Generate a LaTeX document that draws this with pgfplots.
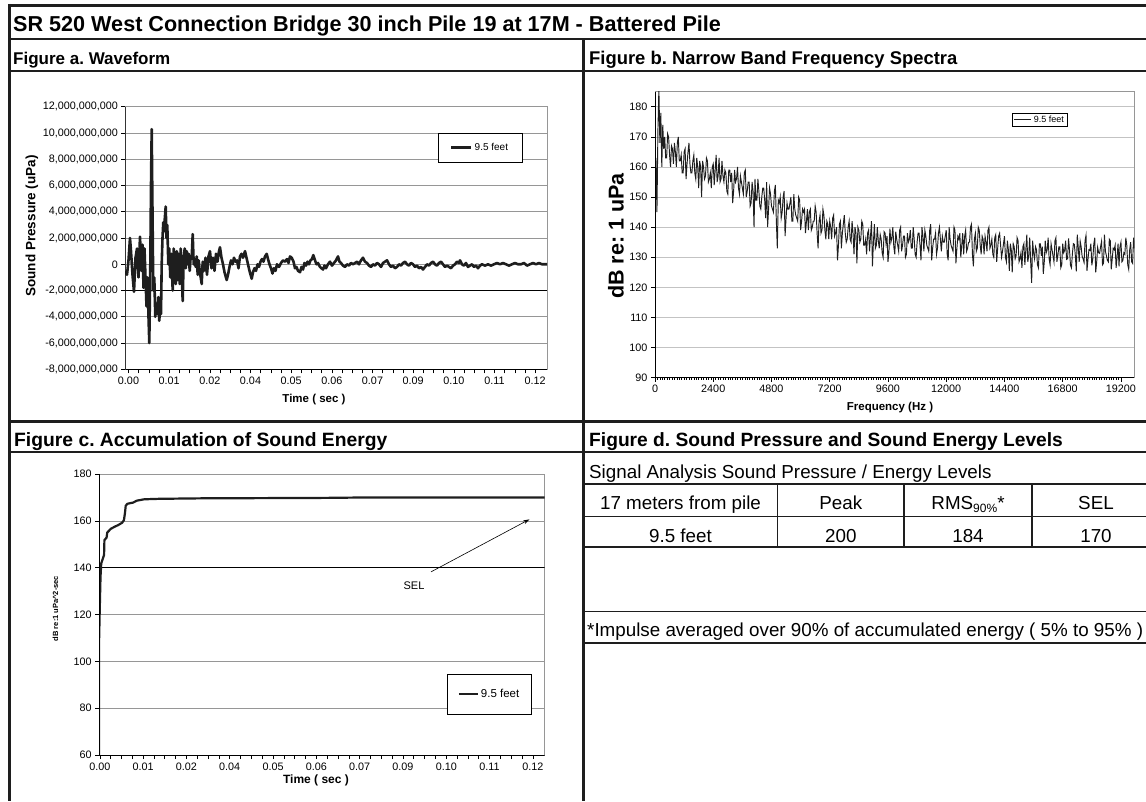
\documentclass[border=0pt]{standalone}
\usepackage{fontspec}
\setmainfont{Liberation Sans}
\usepackage{pgfplots}
\pgfplotsset{compat=1.18}
\usetikzlibrary{arrows.meta}
\definecolor{gridA}{RGB}{150,150,150}
\definecolor{gridB}{RGB}{195,195,195}
\definecolor{ink}{RGB}{30,30,30}
\newcommand{\fs}[1]{\fontsize{#1}{#1}\selectfont}
\pgfplotsset{
  myaxis/.style={
    scale only axis, anchor=south west,
    axis line style={gridA, line width=0.6pt},
    tick style={black, line width=0.6pt},
    tick align=outside, major tick length=4pt, minor tick length=4pt,
    xtick pos=left, ytick pos=left,
    scaled x ticks=false, scaled y ticks=false,
    ymajorgrids, grid style={gridA, line width=0.6pt},
    tick label style={font=\fs{10.8}},
    /pgf/number format/assume math mode=true,
    legend cell align=left,
  }
}
\begin{document}
\frenchspacing
\begin{tikzpicture}[x=1pt,y=1pt]
\useasboundingbox (0,0) rectangle (1146,801);

% ---------------- Figure a
\begin{axis}[myaxis, at={(125.5pt,431.7pt)}, width=421.5pt, height=262.5pt,
  xmin=-0.0009, xmax=0.12555, ymin=-8e9, ymax=12e9,
  xtick={0,0.0122,0.0244,0.0366,0.0488,0.061,0.0732,0.0854,0.0976,0.1098,0.122},
  xticklabels={0.00,0.01,0.02,0.04,0.05,0.06,0.07,0.09,0.10,0.11,0.12},
  minor x tick num=3,
  ytick={-8e9,-6e9,-4e9,-2e9,0,2e9,4e9,6e9,8e9,10e9,12e9},
  yticklabels={{-8,000,000,000},{-6,000,000,000},{-4,000,000,000},{-2,000,000,000},{0},{2,000,000,000},{4,000,000,000},{6,000,000,000},{8,000,000,000},{10,000,000,000},{12,000,000,000}},
  legend style={at={(0.741,0.900)}, anchor=north west, draw=black, line width=0.6pt,
    inner xsep=12pt, inner ysep=8pt, font=\fs{10}},
  legend image code/.code={\draw[#1] (0pt,0pt) -- (20pt,0pt);},
]
\draw[black, line width=1.2pt] (axis cs:-0.0009,-2e9) -- (axis cs:0.12555,-2e9);
\addplot[ink, line width=2.6pt, line join=round] coordinates {
(-0.0009,-0.5e9) (-0.00045,-0.8e9) (0,0.3e9) (0.00045,2.0e9) (0.00075,1.0e9) (0.0012,-0.8e9) (0.00165,-2.1e9) (0.0021,0.5e9) (0.00255,1.2e9) (0.003,-1.0e9) (0.00345,2.1e9) (0.0039,-0.5e9) (0.0042,1.5e9) (0.0045,-1.8e9) (0.0048,1.2e9) (0.0051,-1.0e9) (0.0054,-3.2e9) (0.0057,-1.0e9) (0.006,-4.0e9) (0.00624,-6.0e9) (0.00654,0) (0.00675,6.0e9) (0.00696,10.3e9) (0.0072,4.0e9) (0.00744,-2.0e9) (0.00774,-1.0e9) (0.00804,-4.0e9) (0.00834,-3.0e9) (0.00864,-3.8e9) (0.00894,-2.5e9) (0.00924,-4.3e9) (0.00954,-3.0e9) (0.00975,-3.8e9) (0.00996,0) (0.0102,2.0e9) (0.01044,3.2e9) (0.01065,2.5e9) (0.01089,3.5e9) (0.01116,4.4e9) (0.0114,2.0e9) (0.01164,3.0e9) (0.01194,0) (0.01224,1.2e9) (0.01254,-1.0e9) (0.01284,0.8e9) (0.01326,-2.0e9) (0.01356,1.2e9) (0.01386,-0.5e9) (0.01416,-1.5e9) (0.01446,1.0e9) (0.01476,-1.2e9) (0.01506,0.8e9) (0.01536,-1.5e9) (0.01566,1.2e9) (0.01596,-0.8e9) (0.01626,-2.8e9) (0.01656,0.5e9) (0.01686,1.2e9) (0.01716,-0.3e9) (0.01746,1.0e9) (0.01776,0) (0.01806,0.8e9) (0.01836,-0.5e9) (0.01866,0.6e9) (0.01896,0.5e9) (0.01926,2.3e9) (0.01956,0) (0.01986,0.3e9) (0.02016,-0.2e9) (0.02046,0.6e9) (0.02076,-0.8e9) (0.02106,0.3e9) (0.02136,-0.5e9) (0.02166,-1.0e9) (0.02196,-1.5e9) (0.02226,0.2e9) (0.02265,-0.5e9) (0.0231,0.5e9) (0.02355,-0.8e9) (0.024,0.6e9) (0.02445,1.0e9) (0.0249,-0.3e9) (0.02535,0.5e9) (0.0258,-0.5e9) (0.02625,0.8e9) (0.0267,0.2e9) (0.02715,1.0e9) (0.02745,1.3e9) (0.0279,0.5e9) (0.02835,0) (0.0288,-0.6e9) (0.02946,-1.2e9) (0.02985,-0.8e9) (0.0303,-0.2e9) (0.03075,0.3e9) (0.0312,0) (0.03165,0.5e9) (0.0321,0.2e9) (0.03255,0.3e9) (0.033,-0.3e9) (0.03345,0.6e9) (0.0339,0.8e9) (0.03435,0.5e9) (0.03495,1.0e9) (0.0354,0.5e9) (0.03585,0) (0.0363,-0.5e9) (0.03696,-1.1e9) (0.03735,-0.6e9) (0.0378,-0.3e9) (0.03825,-0.5e9) (0.0387,0) (0.03915,-0.2e9) (0.0396,0.2e9) (0.04005,0.4e9) (0.0405,0.2e9) (0.04095,0.6e9) (0.04146,0.8e9) (0.04185,0.4e9) (0.0423,0) (0.04275,-0.3e9) (0.0432,-0.7e9) (0.04365,-0.3e9) (0.0441,-0.5e9) (0.04455,0) (0.04515,-0.2e9) (0.04575,0.1e9) (0.04635,0.3e9) (0.04695,0.2e9) (0.04755,0.4e9) (0.048,0.1e9) (0.04845,0.6e9) (0.04896,0.5e9) (0.0495,0.2e9) (0.04995,-0.3e9) (0.0504,-0.2e9) (0.05085,-0.5e9) (0.05145,-0.6e9) (0.0519,-0.2e9) (0.05235,-0.4e9) (0.0528,0.1e9) (0.05325,-0.1e9) (0.0537,0.2e9) (0.05415,0) (0.0546,0.3e9) (0.05505,0.4e9) (0.05544,0.7e9) (0.05595,0.3e9) (0.0564,0) (0.05685,0.1e9) (0.05745,-0.2e9) (0.0579,-0.3e9) (0.05835,-0.4e9) (0.0588,-0.1e9) (0.05925,-0.3e9) (0.05985,0) (0.06045,0.2e9) (0.06105,-0.1e9) (0.06165,0.1e9) (0.06225,0.3e9) (0.06285,0.6e9) (0.0633,0.2e9) (0.06375,0.1e9) (0.06435,-0.1e9) (0.06495,-0.2e9) (0.06555,0) (0.06615,-0.1e9) (0.06675,0.1e9) (0.06735,0) (0.06795,0.1e9) (0.06855,0.2e9) (0.06915,0) (0.06975,0.3e9) (0.07035,0.5e9) (0.07095,0.2e9) (0.07155,0.1e9) (0.07215,-0.1e9) (0.07275,-0.2e9) (0.07335,0) (0.07395,-0.1e9) (0.07455,0.1e9) (0.07515,0) (0.07575,-0.2e9) (0.07635,0.1e9) (0.07695,0.2e9) (0.07755,0.3e9) (0.07815,0) (0.07875,-0.2e9) (0.07935,-0.1e9) (0.07995,-0.3e9) (0.08055,-0.2e9) (0.08115,0) (0.08175,-0.1e9) (0.08235,0.1e9) (0.08295,0.2e9) (0.08355,0) (0.08415,-0.1e9) (0.08475,0.1e9) (0.08535,0) (0.08595,-0.2e9) (0.08655,-0.1e9) (0.08715,-0.3e9) (0.08775,-0.2e9) (0.08835,-0.4e9) (0.08895,-0.2e9) (0.08955,0) (0.09015,-0.1e9) (0.09075,0.1e9) (0.09135,0.2e9) (0.09195,0) (0.09255,-0.1e9) (0.09315,0.1e9) (0.09375,0.2e9) (0.09435,0) (0.09495,-0.2e9) (0.09555,-0.1e9) (0.09615,-0.2e9) (0.09675,-0.3e9) (0.09735,-0.1e9) (0.09795,0) (0.09855,0.2e9) (0.09915,0.1e9) (0.09945,0.3e9) (0.10005,0) (0.10065,-0.1e9) (0.10125,0.1e9) (0.10185,-0.2e9) (0.10245,-0.1e9) (0.10305,0) (0.10365,-0.2e9) (0.10425,-0.1e9) (0.10485,-0.3e9) (0.10545,-0.1e9) (0.10605,0) (0.10695,-0.1e9) (0.10785,0) (0.10875,-0.1e9) (0.10965,0) (0.11055,0.1e9) (0.11145,0) (0.11235,0.1e9) (0.11325,0) (0.11415,-0.1e9) (0.11505,0) (0.11595,0.1e9) (0.11685,0) (0.11775,0) (0.11865,0.1e9) (0.11955,-0.1e9) (0.12045,0) (0.12135,0.1e9) (0.12225,0) (0.12315,0.1e9) (0.12405,0) (0.12495,0) (0.12555,0)
};
\addlegendentry{9.5 feet}
\draw[black, line width=0.8pt] (rel axis cs:0,0) -- (rel axis cs:0,1);
\draw[black, line width=0.8pt] (rel axis cs:0,0) -- (rel axis cs:1,0);
\end{axis}

% ---------------- Figure b
\begin{axis}[myaxis, at={(655pt,423.3pt)}, width=479.3pt, height=286pt,
  xmin=0, xmax=19750, ymin=90, ymax=185,
  xtick={0,2400,4800,7200,9600,12000,14400,16800,19200},
  xticklabels={0,2400,4800,7200,9600,12000,14400,16800,19200},
  minor x tick num=23, minor tick length=2pt,
  ytick={90,100,110,120,130,140,150,160,170,180},
  grid style={gridB, line width=0.6pt},
  legend style={at={(0.745,0.9255)}, anchor=north west, draw=black, line width=0.5pt,
    inner xsep=1.5pt, inner ysep=0.5pt, font=\fs{9}},
  legend image code/.code={\draw[#1] (0pt,0pt) -- (17pt,0pt);},
]
\addplot[ink, line width=0.95pt] coordinates {
(0,153)(40,163)(80,145)(120,172)(160,186)(200,168)(240,178)(280,160)(320,174)(360,166)
(400,170)(440,163)(480,163)(520,171)(560,170)(600,164)(640,160)(680,167)(720,166)(760,161)(800,168)(840,165)(880,160)(920,168)(960,170)(1000,162)(1040,162)(1080,164)(1120,158)(1160,158)
(1200,165)(1240,166)(1280,156)(1320,161)(1360,165)(1400,168)(1440,161)(1480,158)(1520,158)(1560,162)(1600,164)(1640,158)(1680,156)(1720,163)(1760,160)(1800,153)(1840,162)(1880,160)(1920,150)(1960,162)
(2000,160)(2040,156)(2080,157)(2120,163)(2160,162)(2200,155)(2240,156)(2280,158)(2320,153)(2360,160)(2400,161)(2440,154)(2480,159)(2520,164)(2560,155)(2600,157)(2640,163)(2680,155)(2720,156)(2760,162)
(2800,157)(2840,155)(2880,159)(2920,158)(2960,152)(3000,151)(3040,159)(3080,159)(3120,155)(3160,158)(3200,148)(3240,152)(3280,159)(3320,155)(3360,156)(3400,160)(3440,153)(3480,151)(3520,157)(3560,155)
(3600,153)(3640,151)(3680,158)(3720,159)(3760,150)(3800,152)(3840,155)(3880,155)(3920,147)(3960,148)(4000,155)(4040,152)(4080,140)(4120,156)(4160,149)(4200,149)(4240,156)(4280,152)(4320,147)(4360,146)
(4400,150)(4440,153)(4480,153)(4520,149)(4560,143)(4600,155)(4640,140)(4680,146)(4720,153)(4760,151)(4800,147)(4840,146)(4880,145)(4920,152)(4960,154)(5000,142)(5040,133)(5080,149)(5120,148)(5160,150)
(5200,143)(5240,145)(5280,150)(5320,152)(5360,137)(5400,143)(5440,148)(5480,146)(5520,146)(5560,148)(5600,150)(5640,142)(5680,142)(5720,151)(5760,146)(5800,144)(5840,143)(5880,142)(5920,150)(5960,149)
(6000,139)(6040,142)(6080,146)(6120,145)(6160,146)(6200,138)(6240,142)(6280,146)(6320,139)(6360,145)(6400,146)(6440,139)(6480,140)(6520,142)(6560,142)(6600,147)(6640,145)(6680,138)(6720,133)(6760,142)
(6800,144)(6840,138)(6880,139)(6920,146)(6960,144)(7000,139)(7040,136)(7080,142)(7120,141)(7160,136)(7200,142)(7240,140)(7280,136)(7320,143)(7360,144)(7400,137)(7440,138)(7480,140)(7520,129)(7560,134)
(7600,141)(7640,142)(7680,133)(7720,138)(7760,141)(7800,144)(7840,138)(7880,135)(7920,136)(7960,140)(8000,142)(8040,136)(8080,135)(8120,142)(8160,138)(8200,131)(8240,140)(8280,138)(8320,128)(8360,140)
(8400,139)(8440,135)(8480,136)(8520,142)(8560,141)(8600,134)(8640,134)(8680,136)(8720,131)(8760,138)(8800,139)(8840,132)(8880,137)(8920,142)(8960,127)(9000,135)(9040,141)(9080,133)(9120,134)(9160,140)
(9200,135.5)(9240,133)(9280,137.5)(9320,136)(9360,131.5)(9400,130)(9440,138.5)(9480,138)(9520,134.5)(9560,137)(9600,128.5)(9640,132)(9680,139.5)(9720,135)(9760,136.5)(9800,140)(9840,133.5)(9880,131)(9920,138.5)(9960,136)
(10000,134)(10040,132)(10080,139)(10120,140)(10160,132)(10200,134)(10240,137)(10280,137)(10320,130)(10360,131)(10400,138)(10440,135)(10480,136)(10520,139)(10560,133)(10600,133)(10640,140)(10680,136)(10720,131)(10760,130)
(10800,135)(10840,138)(10880,138)(10920,134)(10960,129)(11000,140)(11040,137)(11080,132)(11120,139)(11160,137)(11200,134)(11240,133)(11280,132)(11320,139)(11360,141)(11400,129)(11440,133)(11480,136)(11520,136)(11560,138)
(11600,131)(11640,133)(11680,138)(11720,140)(11760,136)(11800,132)(11840,137)(11880,135)(11920,135)(11960,137)(12000,139)(12040,131)(12080,129)(12120,140)(12160,136)(12200,134)(12240,133)(12280,132)(12320,140)(12360,139)
(12400,128)(12440,133)(12480,137)(12520,136)(12560,138)(12600,130)(12640,134)(12680,138)(12720,131)(12760,137)(12800,139)(12840,132)(12880,133)(12920,135)(12960,135)(13000,140)(13040,141)(13080,131)(13120,127)(13160,136)
(13200,138)(13240,132)(13280,133)(13320,140)(13360,139)(13400,134)(13440,131)(13480,137)(13520,136)(13560,131)(13600,137)(13640,135)(13680,132)(13720,139)(13760,140)(13800,133)(13840,134)(13880,136)(13920,131)(13960,130)
(14000,136.5)(14040,137.5)(14080,128.5)(14120,133)(14160,137)(14200,138)(14240,134)(14280,130)(14320,132)(14360,134.5)(14400,137)(14440,130)(14480,128.5)(14520,135.5)(14560,132.5)(14600,125.5)(14640,134.5)(14680,132.5)(14720,125)(14760,134.5)
(14800,133.5)(14840,129.5)(14880,130.5)(14920,136.5)(14960,135.5)(15000,128.5)(15040,129.5)(15080,131.5)(15120,126.5)(15160,133.5)(15200,134.5)(15240,127.5)(15280,132.5)(15320,137.5)(15360,128.5)(15400,130.5)(15440,136.5)(15480,128.5)(15520,121.5)(15560,135.5)
(15600,131.5)(15640,129.5)(15680,133.5)(15720,132.5)(15760,127.5)(15800,126.5)(15840,134.5)(15880,134.5)(15920,130.5)(15960,133.5)(16000,124.5)(16040,128.5)(16080,135.5)(16120,131.5)(16160,132.5)(16200,136.5)(16240,129.5)(16280,127.5)(16320,134.5)(16360,132.5)
(16400,130.5)(16440,128.5)(16480,135.5)(16520,136.5)(16560,128.5)(16600,130.5)(16640,133.5)(16680,133.5)(16720,126.5)(16760,127.5)(16800,134.5)(16840,131.5)(16880,132.3)(16920,135.5)(16960,129.3)(17000,129.5)(17040,136.3)(17080,132.5)(17120,127.3)(17160,126.5)
(17200,131.3)(17240,134.5)(17280,134.3)(17320,130.5)(17360,125.3)(17400,137.5)(17440,133.3)(17480,128.5)(17520,135.3)(17560,133.5)(17600,130.3)(17640,129.5)(17680,128.3)(17720,135.5)(17760,137.3)(17800,125.5)(17840,129.3)(17880,132.5)(17920,132.3)(17960,134.5)
(18000,127.3)(18040,129.5)(18080,134.3)(18120,136.5)(18160,125)(18200,128.5)(18240,133.3)(18280,131.5)(18320,131.3)(18360,133.5)(18400,135.3)(18440,127.5)(18480,128)(18520,137.5)(18560,132)(18600,130.5)(18640,129)(18680,128.5)(18720,136)(18760,135.5)
(18800,126)(18840,129.5)(18880,133)(18920,132.5)(18960,134)(19000,126.5)(19040,130)(19080,134.5)(19120,127)(19160,133.5)(19200,135)(19240,128.5)(19280,129)(19320,131.5)(19360,131)(19400,136.5)(19440,134)(19480,127.5)(19520,126)(19560,132.5)
(19600,135)(19640,128.5)(19680,128)(19720,136.5)(19750,133)
};
\addlegendentry{9.5 feet}
\draw[black, line width=0.8pt] (rel axis cs:0,0) -- (rel axis cs:0,1);
\draw[black, line width=0.8pt] (rel axis cs:0,0) -- (rel axis cs:1,0);
\end{axis}

% ---------------- Figure c
\begin{axis}[myaxis, at={(99.1pt,46pt)}, width=445.5pt, height=281pt,
  xmin=-0.0002, xmax=0.1253, ymin=60, ymax=180,
  xtick={0,0.0122,0.0244,0.0366,0.0488,0.061,0.0732,0.0854,0.0976,0.1098,0.122},
  xticklabels={0.00,0.01,0.02,0.04,0.05,0.06,0.07,0.09,0.10,0.11,0.12},
  minor x tick num=3,
  ytick={60,80,100,120,140,160,180},
  legend style={at={(0.782,0.288)}, anchor=north west, draw=black, line width=0.6pt,
    inner xsep=10pt, inner ysep=13pt, font=\fs{11.5}},
  legend image code/.code={\draw[#1] (0pt,0pt) -- (19pt,0pt);},
]
\draw[black, line width=1.2pt] (axis cs:-0.0002,140) -- (axis cs:0.1253,140);
\addplot[ink, line width=2.2pt, line join=round] coordinates {
(-0.0002,60) (-0.0002,109) (0,123.3) (0.0002,136.1) (0.0004,141.8) (0.0007,143.2) (0.0010,144.5) (0.0012,145.5) (0.0013,151.8) (0.0019,152.8) (0.0021,155.0) (0.0031,156.6) (0.0042,157.5) (0.0052,158.2) (0.0063,159.2) (0.0068,160.3) (0.0071,163.5) (0.0073,166.5) (0.0078,167.3) (0.0094,167.8) (0.0104,168.6) (0.0125,169.2) (0.0167,169.4) (0.0282,169.6) (0.0636,169.8) (0.0761,170.0) (0.1253,170.0)
};
\addlegendentry{9.5 feet}
\draw[-{Stealth[length=6pt,width=4pt]}, line width=0.6pt] (axis cs:0.0933,138.2) -- (axis cs:0.1210,160.6);
\node[font=\fs{11}] at (axis cs:0.0885,132.3) {SEL};
\draw[black, line width=0.8pt] (rel axis cs:0,0) -- (rel axis cs:0,1);
\draw[black, line width=0.8pt] (rel axis cs:0,0) -- (rel axis cs:1,0);
\end{axis}

% ---------------- axis titles
\node[rotate=90, font=\fs{13.5}\bfseries] at (32,575) {Sound Pressure (uPa)};
\node[font=\fs{11.5}\bfseries] at (314,401) {Time ( sec )};
\node[rotate=90, font=\fs{21.5}\bfseries] at (616,565) {dB re: 1 uPa};
\node[font=\fs{11.5}\bfseries] at (890,393) {Frequency (Hz )};
\node[rotate=90, font=\fs{7.5}\bfseries] at (55.5,192.5) {dB re:1 uPa\^{}2-sec};
\node[font=\fs{12}\bfseries] at (316,21) {Time ( sec )};

% ---------------- frame
\draw[ink, line width=2.5pt] (8,795.7) -- (1146,795.7);
\draw[ink, line width=3pt] (9.7,797) -- (9.7,0);
\draw[ink, line width=2pt] (9,762.3) -- (1146,762.3);
\draw[ink, line width=2pt] (9,730.3) -- (1146,730.3);
\draw[ink, line width=2.5pt] (583.3,762.3) -- (583.3,0);
\draw[ink, line width=3pt] (9,379.3) -- (1146,379.3);
\draw[ink, line width=2pt] (9,349.3) -- (1146,349.3);
\draw[ink, line width=1.6pt] (583.3,316.7) -- (1146,316.7);
\draw[ink, line width=1.6pt] (583.3,284.3) -- (1146,284.3);
\draw[ink, line width=1.6pt] (583.3,253.7) -- (1146,253.7);
\draw[ink, line width=1.6pt] (583.3,189.3) -- (1146,189.3);
\draw[ink, line width=1.6pt] (583.3,157.7) -- (1146,157.7);
\foreach \xx in {777.5,904,1032} \draw[ink, line width=1.1pt] (\xx,316.7) -- (\xx,253.7);

% ---------------- headings
\node[anchor=base west, inner sep=0pt, font=\fs{21.6}\bfseries] at (13,769.5) {SR 520 West Connection Bridge 30 inch Pile 19 at 17M - Battered Pile};
\node[anchor=base west, inner sep=0pt, font=\fs{17}\bfseries] at (13,736) {Figure a. Waveform};
\node[anchor=base west, inner sep=0pt, font=\fs{18.4}\bfseries] at (589,736) {Figure b. Narrow Band Frequency Spectra};
\node[anchor=base west, inner sep=0pt, font=\fs{19.3}\bfseries] at (14,354) {Figure c. Accumulation of Sound Energy};
\node[anchor=base west, inner sep=0pt, font=\fs{19.2}\bfseries] at (589,354) {Figure d. Sound Pressure and Sound Energy Levels};

% ---------------- table d
\node[anchor=base west, inner sep=0pt, font=\fs{18.8}] at (589,322.5) {Signal Analysis Sound Pressure / Energy Levels};
\node[anchor=base, inner sep=0pt, font=\fs{18.8}] at (680.5,291) {17 meters from pile};
\node[anchor=base, inner sep=0pt, font=\fs{18.8}] at (840.8,291) {Peak};
\node[anchor=base, inner sep=0pt, font=\fs{18.8}] at (968,291) {RMS\raisebox{-2.5pt}{\fs{12}90\%}*};
\node[anchor=base, inner sep=0pt, font=\fs{18.8}] at (1096,291) {SEL};
\node[anchor=base, inner sep=0pt, font=\fs{18.8}] at (680.5,258) {9.5 feet};
\node[anchor=base, inner sep=0pt, font=\fs{18.8}] at (840.8,258) {200};
\node[anchor=base, inner sep=0pt, font=\fs{18.8}] at (968,258) {184};
\node[anchor=base, inner sep=0pt, font=\fs{18.8}] at (1096,258) {170};
\node[anchor=base west, inner sep=0pt, font=\fs{18.8}] at (587,164.3) {*Impulse averaged over 90\% of accumulated energy ( 5\% to 95\% )};
\end{tikzpicture}
\end{document}
